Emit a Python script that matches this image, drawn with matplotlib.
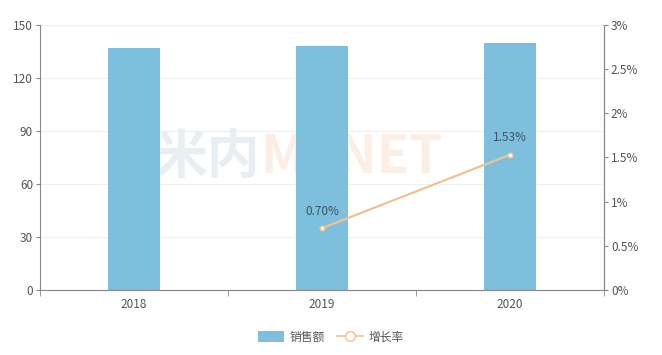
import numpy as np
import matplotlib.pyplot as plt
from matplotlib.lines import Line2D
from matplotlib.patches import Patch

plt.rcParams['font.family'] = ['Noto Sans CJK SC', 'DejaVu Sans']

years = ['2018', '2019', '2020']
sales = [137, 138, 140]
growth_years = [1, 2]
growth = [0.70, 1.53]
growth_labels = ['0.70%', '1.53%']

bar_color = '#7dbfdc'
line_color = '#efc38f'
text_color = '#555555'
axis_color = '#888888'

fig = plt.figure(figsize=(6.62, 3.55), dpi=100)
ax = fig.add_axes([0.0604, 0.183, 0.852, 0.747])
ax2 = ax.twinx()

x = np.arange(len(years))
ax.bar(x, sales, width=0.28, color=bar_color, zorder=2)
ax.set_xlim(-0.5, 2.5)
ax.set_ylim(0, 150)
ax.set_yticks([0, 30, 60, 90, 120, 150])
ax.grid(axis='y', color='#f0f0f0', linewidth=0.8, zorder=0)
ax.set_axisbelow(True)

# faint watermark, behind the bars
ax.text(0.39, 0.50, '米内', transform=ax.transAxes, ha='right', va='center',
        fontsize=38, color='#e9eef3', fontweight='bold', zorder=1)
ax.text(0.39, 0.50, 'MENET', transform=ax.transAxes, ha='left', va='center',
        fontsize=38, color='#fbeee4', fontweight='bold', zorder=1)

ax.set_xticks(x)
ax.set_xticklabels(years)
ax.set_xticks([-0.5, 0.5, 1.5, 2.5], minor=True)
ax.tick_params(axis='x', which='major', length=0, labelsize=8.5, colors=text_color, pad=6)
ax.tick_params(axis='x', which='minor', length=4, color=axis_color, direction='out')
ax.tick_params(axis='y', length=3, color=axis_color, labelsize=8.5, labelcolor=text_color, pad=2)

ax2.plot(growth_years, growth, color=line_color, linewidth=1.6, marker='o',
         markersize=3.5, markerfacecolor='white', markeredgecolor=line_color, zorder=3)
for xi, yi, lab in zip(growth_years, growth, growth_labels):
    ax2.text(xi, yi + 0.12, lab, ha='center', va='bottom', fontsize=8.5, color='#3d5566')
ax2.set_ylim(0, 3)
ax2.set_yticks([0, 0.5, 1, 1.5, 2, 2.5, 3])
ax2.set_yticklabels(['0%', '0.5%', '1%', '1.5%', '2%', '2.5%', '3%'])
ax2.tick_params(axis='y', length=3, color=axis_color, labelsize=8.5, labelcolor=text_color, pad=2)

for a in (ax, ax2):
    a.spines['top'].set_visible(False)
    a.spines['left'].set_color(axis_color)
    a.spines['right'].set_color(axis_color)
    a.spines['bottom'].set_color(axis_color)
ax2.spines['left'].set_visible(False)
ax2.spines['bottom'].set_visible(False)

handles = [Patch(facecolor=bar_color, edgecolor='none'),
           Line2D([0], [0], color=line_color, linewidth=1.2, marker='o', markersize=7,
                  markerfacecolor='white', markeredgecolor=line_color)]
fig.legend(handles, ['销售额', '增长率'], loc='center', bbox_to_anchor=(0.5, 0.05),
           ncol=2, frameon=False, fontsize=8.5, labelcolor=text_color,
           handlelength=2.2, handleheight=1.0, columnspacing=1.0, handletextpad=0.5)

fig.savefig('out.png', dpi=100)
